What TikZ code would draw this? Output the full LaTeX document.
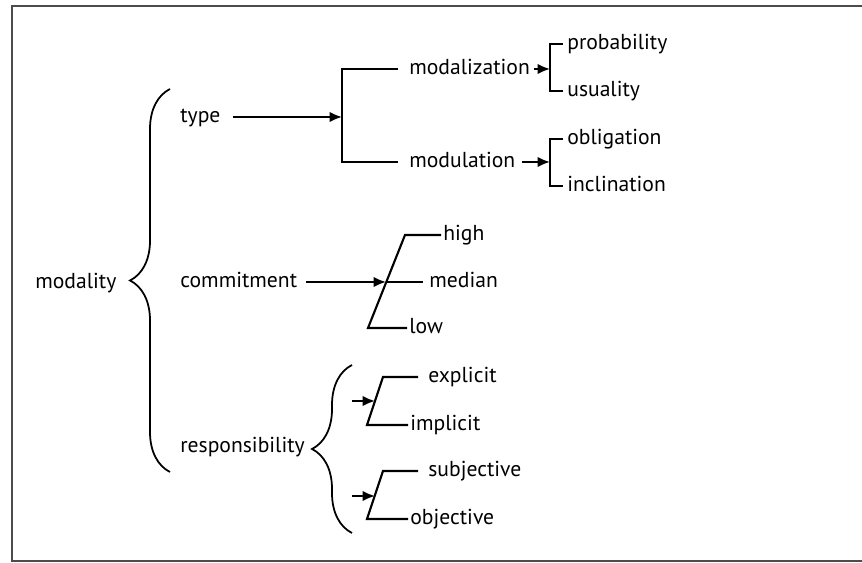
\documentclass[tikz,border=0pt]{standalone}
\usepackage{fontspec}
\setmainfont{PT Sans}
\usetikzlibrary{arrows.meta,decorations.pathreplacing}
\tikzset{
  lbl/.style={anchor=west,inner sep=0pt,text height=8.5pt,text depth=2.5pt,
    font=\fontsize{12.3}{15}\selectfont},
  ln/.style={line width=1.2pt},
  arr/.style={line width=1.2pt,-{Latex[length=7pt,width=6pt]}},
  brc/.style={line width=1pt,decorate,decoration={brace,amplitude=0.8cm}}
}
\begin{document}
\begin{tikzpicture}[x=0.02cm,y=-0.02cm]
\useasboundingbox (0,0) rectangle (862,563);
\draw[gray!60!black,line width=1.2pt] (862,6) -- (12,6) -- (12,561) -- (862,561);
% left part
\node[lbl] (modality) at (35,283) {modality};
\node[lbl] (type) at (180,117) {type};
\node[lbl] (commit) at (180,282) {commitment};
\node[lbl] (resp) at (180,447) {responsibility};
\coordinate (bigtop) at (170,89);
\coordinate (bigbot) at (170,472);
\draw[brc] (bigbot) -- (bigtop);
% type
\node[lbl] (modz) at (409,69) {modalization};
\node[lbl] (modu) at (409,162) {modulation};
\coordinate (tmid) at (342,117);
\draw[arr] ([xshift=12*0.02cm]type.east) -- (tmid);
\draw[ln] ([xshift=-11*0.02cm]modz.west) -- (tmid |- modz.west) -- (tmid |- modu.west) -- ([xshift=-11*0.02cm]modu.west);
\node[lbl] (prob) at (567,44) {probability};
\node[lbl] (usu) at (567,91) {usuality};
\node[lbl] (oblig) at (567,139) {obligation};
\node[lbl] (incl) at (567,186) {inclination};
\coordinate (zmid) at (550,69);
\coordinate (umid) at (550,162);
\draw[arr] ([xshift=4*0.02cm]modz.east) -- (zmid);
\draw[arr] ([xshift=6*0.02cm]modu.east) -- (umid);
\draw[ln] ([xshift=-4*0.02cm]prob.west) -- (zmid |- prob.west) -- (zmid |- usu.west) -- ([xshift=-4*0.02cm]usu.west);
\draw[ln] ([xshift=-4*0.02cm]oblig.west) -- (umid |- oblig.west) -- (umid |- incl.west) -- ([xshift=-4*0.02cm]incl.west);
% commitment
\node[lbl] (high) at (443,235) {high};
\node[lbl] (median) at (429,282) {median};
\node[lbl] (low) at (409,328) {low};
\coordinate (cx) at (386,282);
\draw[arr] ([xshift=9*0.02cm]commit.east) -- (cx);
\draw[ln] ([xshift=-2*0.02cm]high.west) -- (405,235) -- (368,328) -- ([xshift=-2*0.02cm]low.west);
\draw[ln] (cx) -- ([xshift=-6*0.02cm]median.west);
% responsibility
\draw[brc] (352,533) -- (352,365);
\node[lbl] (expl) at (428,377) {explicit};
\node[lbl] (impl) at (410,425) {implicit};
\node[lbl] (subj) at (428,471) {subjective};
\node[lbl] (obj) at (410,519) {objective};
\coordinate (ex) at (375,401);
\coordinate (sx) at (375,496);
\draw[arr] (352,401) -- (ex);
\draw[arr] (352,496) -- (sx);
\draw[ln] ([xshift=-10*0.02cm]expl.west) -- (383,377) -- (367,425) -- ([xshift=-2*0.02cm]impl.west);
\draw[ln] ([xshift=-10*0.02cm]subj.west) -- (383,471) -- (367,519) -- ([xshift=-2*0.02cm]obj.west);
\end{tikzpicture}
\end{document}
